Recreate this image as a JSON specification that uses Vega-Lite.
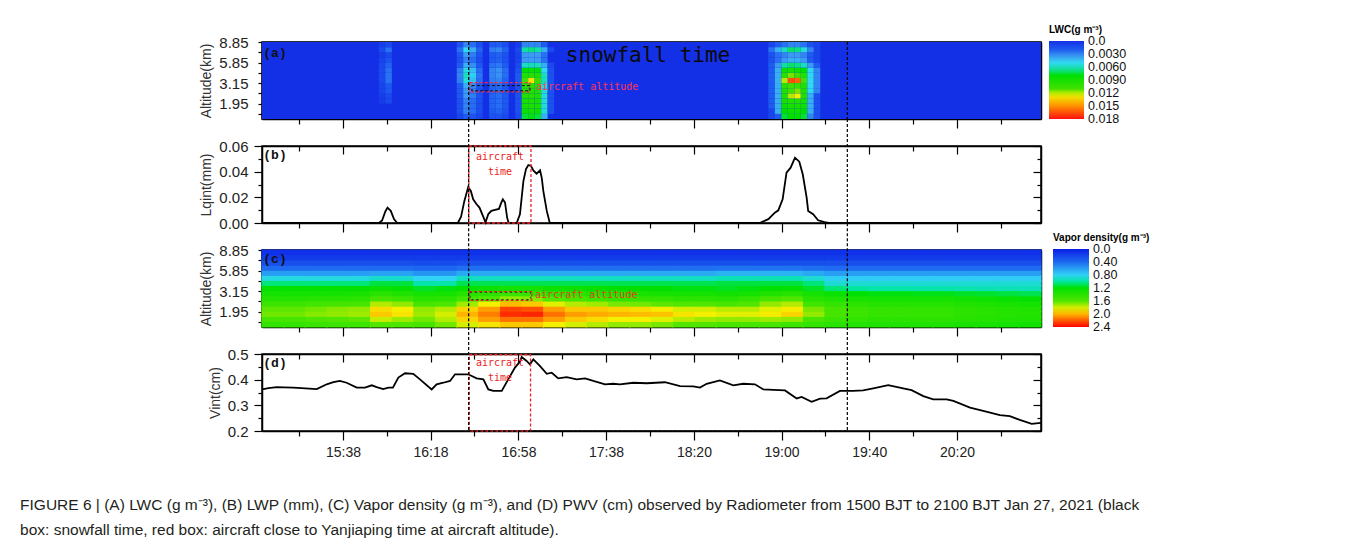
{
"$schema":"https://vega.github.io/schema/vega-lite/v6.json",
"background":"white",
"padding":{"left":20,"top":24,"right":5,"bottom":5},
"spacing":27,
"bounds":"flush",
"title":{"text":["FIGURE 6 | (A) LWC (g m⁻³), (B) LWP (mm), (C) Vapor density (g m⁻³), and (D) PWV (cm) observed by Radiometer from 1500 BJT to 2100 BJT Jan 27, 2021 (black","box: snowfall time, red box: aircraft close to Yanjiaping time at aircraft altitude)."],"orient":"bottom","anchor":"start","frame":"bounds","dx":-179,"offset":38,"font":"Liberation Sans","fontSize":15.5,"fontWeight":"normal","color":"#231f20","lineHeight":25},
"datasets":{
"lwcbg":[{"t0":0,"t1":360,"h0":1,"h1":16,"v":0}],
"snow":[{"t":95.5},{"t":270.5}],
"lq":[{"t":0,"v":0},{"t":54,"v":0},{"t":55.5,"v":0.002},{"t":57,"v":0.009},{"t":58,"v":0.012},{"t":59.5,"v":0.0095},{"t":61,"v":0.003},{"t":62.5,"v":0},{"t":90.5,"v":0},{"t":92,"v":0.005},{"t":93.5,"v":0.017},{"t":95.3,"v":0.028},{"t":96.5,"v":0.025},{"t":97.6,"v":0.0185},{"t":99,"v":0.015},{"t":100.5,"v":0.012},{"t":102,"v":0.006},{"t":103.3,"v":0.0005},{"t":104.6,"v":0.007},{"t":106,"v":0.0095},{"t":107.7,"v":0.0102},{"t":109.5,"v":0.011},{"t":110.5,"v":0.0155},{"t":111.3,"v":0.0185},{"t":112.3,"v":0.016},{"t":113.3,"v":0.004},{"t":114,"v":0},{"t":117.7,"v":0},{"t":119.2,"v":0.0068},{"t":120.8,"v":0.0327},{"t":122,"v":0.042},{"t":123.1,"v":0.0452},{"t":124.3,"v":0.0445},{"t":125.4,"v":0.041},{"t":126.9,"v":0.0384},{"t":128.5,"v":0.041},{"t":129.3,"v":0.035},{"t":130,"v":0.025},{"t":131.6,"v":0.0094},{"t":133,"v":0},{"t":230,"v":0},{"t":234,"v":0.003},{"t":237,"v":0.008},{"t":238.6,"v":0.0099},{"t":240.6,"v":0.0185},{"t":242.4,"v":0.0392},{"t":244.3,"v":0.0431},{"t":246.3,"v":0.0509},{"t":248.3,"v":0.0478},{"t":249.9,"v":0.038},{"t":251.7,"v":0.0197},{"t":252.4,"v":0.0094},{"t":254.7,"v":0.0068},{"t":257,"v":0.0021},{"t":260,"v":0.0006},{"t":262,"v":0},{"t":360,"v":0}],
"vi":[{"t":0,"v":0.362},{"t":3,"v":0.367},{"t":6.8,"v":0.371},{"t":10,"v":0.37},{"t":14.5,"v":0.369},{"t":20,"v":0.366},{"t":25.3,"v":0.363},{"t":29.9,"v":0.382},{"t":33,"v":0.39},{"t":36,"v":0.395},{"t":39.1,"v":0.388},{"t":43.8,"v":0.369},{"t":47.6,"v":0.369},{"t":50.7,"v":0.378},{"t":53,"v":0.371},{"t":56,"v":0.363},{"t":58.4,"v":0.369},{"t":60.5,"v":0.369},{"t":63,"v":0.408},{"t":66.1,"v":0.425},{"t":69.9,"v":0.423},{"t":73,"v":0.401},{"t":78.4,"v":0.362},{"t":80.7,"v":0.382},{"t":83.8,"v":0.388},{"t":86.9,"v":0.395},{"t":89.2,"v":0.421},{"t":91.5,"v":0.421},{"t":95.3,"v":0.421},{"t":99.2,"v":0.405},{"t":102.3,"v":0.401},{"t":104.6,"v":0.362},{"t":106.9,"v":0.356},{"t":110.8,"v":0.356},{"t":113.8,"v":0.401},{"t":116.9,"v":0.447},{"t":119.2,"v":0.47},{"t":120,"v":0.488},{"t":122.3,"v":0.473},{"t":123.8,"v":0.46},{"t":125.4,"v":0.479},{"t":128.5,"v":0.453},{"t":131.6,"v":0.423},{"t":133.9,"v":0.427},{"t":136.9,"v":0.405},{"t":140.8,"v":0.41},{"t":145.4,"v":0.401},{"t":149.3,"v":0.405},{"t":153.1,"v":0.395},{"t":158.5,"v":0.382},{"t":162.3,"v":0.384},{"t":165.4,"v":0.382},{"t":171.6,"v":0.388},{"t":177.8,"v":0.386},{"t":186.2,"v":0.39},{"t":193.2,"v":0.375},{"t":199.3,"v":0.374},{"t":202.4,"v":0.369},{"t":205.5,"v":0.384},{"t":211.6,"v":0.397},{"t":217.8,"v":0.378},{"t":222.4,"v":0.384},{"t":227.8,"v":0.382},{"t":231.7,"v":0.362},{"t":236.3,"v":0.36},{"t":241.7,"v":0.358},{"t":247.1,"v":0.327},{"t":249.4,"v":0.333},{"t":254,"v":0.314},{"t":257.9,"v":0.326},{"t":260.9,"v":0.327},{"t":267.1,"v":0.356},{"t":273.2,"v":0.356},{"t":277.8,"v":0.358},{"t":282.5,"v":0.366},{"t":289.4,"v":0.379},{"t":296.3,"v":0.366},{"t":300.2,"v":0.359},{"t":305.6,"v":0.336},{"t":310.2,"v":0.323},{"t":316.4,"v":0.323},{"t":319.5,"v":0.317},{"t":327.2,"v":0.291},{"t":333.3,"v":0.278},{"t":341,"v":0.262},{"t":345.6,"v":0.258},{"t":350.2,"v":0.243},{"t":355.7,"v":0.228},{"t":358.8,"v":0.231},{"t":360,"v":0.232}],
"lwc":[
{"t":55.5,"h":4,"v":0.0006},{"t":55.5,"h":5,"v":0.0006},{"t":55.5,"h":6,"v":0.0009},{"t":55.5,"h":7,"v":0.0009},{"t":55.5,"h":8,"v":0.0012},{"t":55.5,"h":9,"v":0.0012},{"t":55.5,"h":10,"v":0.0012},{"t":55.5,"h":11,"v":0.0011},{"t":55.5,"h":12,"v":0.0008},{"t":55.5,"h":13,"v":0.0006},{"t":55.5,"h":14,"v":0.0012},{"t":55.5,"h":15,"v":0.0006},
{"t":58.5,"h":4,"v":0.0012},{"t":58.5,"h":5,"v":0.0012},{"t":58.5,"h":6,"v":0.0018},{"t":58.5,"h":7,"v":0.0018},{"t":58.5,"h":8,"v":0.0025},{"t":58.5,"h":9,"v":0.0025},{"t":58.5,"h":10,"v":0.0025},{"t":58.5,"h":11,"v":0.0022},{"t":58.5,"h":12,"v":0.0016},{"t":58.5,"h":13,"v":0.0012},{"t":58.5,"h":14,"v":0.0025},{"t":58.5,"h":15,"v":0.0012},
{"t":91.5,"h":1,"v":0.001},{"t":91.5,"h":2,"v":0.0015},{"t":91.5,"h":3,"v":0.0015},{"t":91.5,"h":4,"v":0.0015},{"t":91.5,"h":5,"v":0.0018},{"t":91.5,"h":6,"v":0.0018},{"t":91.5,"h":7,"v":0.002},{"t":91.5,"h":8,"v":0.0028},{"t":91.5,"h":9,"v":0.003},{"t":91.5,"h":10,"v":0.0028},{"t":91.5,"h":11,"v":0.002},{"t":91.5,"h":12,"v":0.0015},{"t":91.5,"h":13,"v":0.0018},{"t":91.5,"h":14,"v":0.0025},{"t":91.5,"h":15,"v":0.0015},
{"t":94.5,"h":1,"v":0.002},{"t":94.5,"h":2,"v":0.003},{"t":94.5,"h":3,"v":0.003},{"t":94.5,"h":4,"v":0.003},{"t":94.5,"h":5,"v":0.0035},{"t":94.5,"h":6,"v":0.0035},{"t":94.5,"h":7,"v":0.004},{"t":94.5,"h":8,"v":0.0055},{"t":94.5,"h":9,"v":0.006},{"t":94.5,"h":10,"v":0.0055},{"t":94.5,"h":11,"v":0.004},{"t":94.5,"h":12,"v":0.003},{"t":94.5,"h":13,"v":0.0035},{"t":94.5,"h":14,"v":0.005},{"t":94.5,"h":15,"v":0.003},
{"t":97.5,"h":1,"v":0.0016},{"t":97.5,"h":2,"v":0.0024},{"t":97.5,"h":3,"v":0.0024},{"t":97.5,"h":4,"v":0.0024},{"t":97.5,"h":5,"v":0.0028},{"t":97.5,"h":6,"v":0.0028},{"t":97.5,"h":7,"v":0.0032},{"t":97.5,"h":8,"v":0.0044},{"t":97.5,"h":9,"v":0.0048},{"t":97.5,"h":10,"v":0.0044},{"t":97.5,"h":11,"v":0.0032},{"t":97.5,"h":12,"v":0.0024},{"t":97.5,"h":13,"v":0.0028},{"t":97.5,"h":14,"v":0.004},{"t":97.5,"h":15,"v":0.0024},
{"t":100.5,"h":1,"v":0.001},{"t":100.5,"h":2,"v":0.0014},{"t":100.5,"h":3,"v":0.0014},{"t":100.5,"h":4,"v":0.0014},{"t":100.5,"h":5,"v":0.0016},{"t":100.5,"h":6,"v":0.0016},{"t":100.5,"h":7,"v":0.0018},{"t":100.5,"h":8,"v":0.0024},{"t":100.5,"h":9,"v":0.0026},{"t":100.5,"h":10,"v":0.0024},{"t":100.5,"h":11,"v":0.0018},{"t":100.5,"h":12,"v":0.0014},{"t":100.5,"h":13,"v":0.0016},{"t":100.5,"h":14,"v":0.0022},{"t":100.5,"h":15,"v":0.0014},
{"t":106.5,"h":1,"v":0.0015},{"t":106.5,"h":2,"v":0.002},{"t":106.5,"h":3,"v":0.0022},{"t":106.5,"h":4,"v":0.0022},{"t":106.5,"h":5,"v":0.0022},{"t":106.5,"h":6,"v":0.0022},{"t":106.5,"h":7,"v":0.0022},{"t":106.5,"h":8,"v":0.0028},{"t":106.5,"h":9,"v":0.003},{"t":106.5,"h":10,"v":0.003},{"t":106.5,"h":11,"v":0.0025},{"t":106.5,"h":12,"v":0.002},{"t":106.5,"h":13,"v":0.002},{"t":106.5,"h":14,"v":0.0028},{"t":106.5,"h":15,"v":0.0018},
{"t":109.5,"h":1,"v":0.0016},{"t":109.5,"h":2,"v":0.0022},{"t":109.5,"h":3,"v":0.0024},{"t":109.5,"h":4,"v":0.0024},{"t":109.5,"h":5,"v":0.0024},{"t":109.5,"h":6,"v":0.0024},{"t":109.5,"h":7,"v":0.0024},{"t":109.5,"h":8,"v":0.003},{"t":109.5,"h":9,"v":0.0033},{"t":109.5,"h":10,"v":0.0033},{"t":109.5,"h":11,"v":0.0027},{"t":109.5,"h":12,"v":0.0022},{"t":109.5,"h":13,"v":0.0022},{"t":109.5,"h":14,"v":0.003},{"t":109.5,"h":15,"v":0.002},
{"t":112.5,"h":1,"v":0.0012},{"t":112.5,"h":2,"v":0.0016},{"t":112.5,"h":3,"v":0.0018},{"t":112.5,"h":4,"v":0.0018},{"t":112.5,"h":5,"v":0.0018},{"t":112.5,"h":6,"v":0.0018},{"t":112.5,"h":7,"v":0.0018},{"t":112.5,"h":8,"v":0.0022},{"t":112.5,"h":9,"v":0.0024},{"t":112.5,"h":10,"v":0.0024},{"t":112.5,"h":11,"v":0.002},{"t":112.5,"h":12,"v":0.0016},{"t":112.5,"h":13,"v":0.0016},{"t":112.5,"h":14,"v":0.0022},{"t":112.5,"h":15,"v":0.0014},
{"t":118.5,"h":1,"v":0.0012},{"t":118.5,"h":2,"v":0.0015},{"t":118.5,"h":3,"v":0.0015},{"t":118.5,"h":4,"v":0.0015},{"t":118.5,"h":5,"v":0.0015},{"t":118.5,"h":6,"v":0.0015},{"t":118.5,"h":7,"v":0.0015},{"t":118.5,"h":8,"v":0.0018},{"t":118.5,"h":9,"v":0.0018},{"t":118.5,"h":10,"v":0.0015},{"t":118.5,"h":11,"v":0.0012},{"t":118.5,"h":12,"v":0.0008},{"t":118.5,"h":13,"v":0.0008},{"t":118.5,"h":14,"v":0.0012},{"t":118.5,"h":15,"v":0.0006},
{"t":121.5,"h":1,"v":0.0075},{"t":121.5,"h":2,"v":0.0085},{"t":121.5,"h":3,"v":0.009},{"t":121.5,"h":4,"v":0.009},{"t":121.5,"h":5,"v":0.0095},{"t":121.5,"h":6,"v":0.0095},{"t":121.5,"h":7,"v":0.0098},{"t":121.5,"h":8,"v":0.011},{"t":121.5,"h":9,"v":0.0095},{"t":121.5,"h":10,"v":0.008},{"t":121.5,"h":11,"v":0.006},{"t":121.5,"h":12,"v":0.0035},{"t":121.5,"h":13,"v":0.0035},{"t":121.5,"h":14,"v":0.0065},{"t":121.5,"h":15,"v":0.003},
{"t":124.5,"h":1,"v":0.0078},{"t":124.5,"h":2,"v":0.0088},{"t":124.5,"h":3,"v":0.0092},{"t":124.5,"h":4,"v":0.0092},{"t":124.5,"h":5,"v":0.0096},{"t":124.5,"h":6,"v":0.0096},{"t":124.5,"h":7,"v":0.01},{"t":124.5,"h":8,"v":0.0128},{"t":124.5,"h":9,"v":0.0098},{"t":124.5,"h":10,"v":0.0082},{"t":124.5,"h":11,"v":0.0062},{"t":124.5,"h":12,"v":0.0036},{"t":124.5,"h":13,"v":0.0036},{"t":124.5,"h":14,"v":0.0068},{"t":124.5,"h":15,"v":0.003},
{"t":127.5,"h":1,"v":0.0075},{"t":127.5,"h":2,"v":0.0085},{"t":127.5,"h":3,"v":0.009},{"t":127.5,"h":4,"v":0.009},{"t":127.5,"h":5,"v":0.0094},{"t":127.5,"h":6,"v":0.0094},{"t":127.5,"h":7,"v":0.0096},{"t":127.5,"h":8,"v":0.0105},{"t":127.5,"h":9,"v":0.0094},{"t":127.5,"h":10,"v":0.008},{"t":127.5,"h":11,"v":0.006},{"t":127.5,"h":12,"v":0.0035},{"t":127.5,"h":13,"v":0.0035},{"t":127.5,"h":14,"v":0.0065},{"t":127.5,"h":15,"v":0.003},
{"t":130.5,"h":1,"v":0.004},{"t":130.5,"h":2,"v":0.0055},{"t":130.5,"h":3,"v":0.0055},{"t":130.5,"h":4,"v":0.0055},{"t":130.5,"h":5,"v":0.0055},{"t":130.5,"h":6,"v":0.0055},{"t":130.5,"h":7,"v":0.0055},{"t":130.5,"h":8,"v":0.006},{"t":130.5,"h":9,"v":0.006},{"t":130.5,"h":10,"v":0.005},{"t":130.5,"h":11,"v":0.004},{"t":130.5,"h":12,"v":0.0025},{"t":130.5,"h":13,"v":0.0025},{"t":130.5,"h":14,"v":0.004},{"t":130.5,"h":15,"v":0.002},
{"t":133.5,"h":2,"v":0.0015},{"t":133.5,"h":3,"v":0.0015},{"t":133.5,"h":4,"v":0.0015},{"t":133.5,"h":5,"v":0.0015},{"t":133.5,"h":6,"v":0.0015},{"t":133.5,"h":7,"v":0.0015},{"t":133.5,"h":8,"v":0.0015},{"t":133.5,"h":9,"v":0.0015},{"t":133.5,"h":10,"v":0.0015},{"t":133.5,"h":11,"v":0.0012},{"t":133.5,"h":14,"v":0.0012},
{"t":235.5,"h":1,"v":0.001},{"t":235.5,"h":2,"v":0.001},{"t":235.5,"h":3,"v":0.002},{"t":235.5,"h":4,"v":0.002},{"t":235.5,"h":5,"v":0.002},{"t":235.5,"h":6,"v":0.002},{"t":235.5,"h":7,"v":0.002},{"t":235.5,"h":8,"v":0.002},{"t":235.5,"h":9,"v":0.002},{"t":235.5,"h":10,"v":0.002},{"t":235.5,"h":11,"v":0.002},{"t":235.5,"h":12,"v":0.0015},{"t":235.5,"h":13,"v":0.0015},{"t":235.5,"h":14,"v":0.0025},{"t":235.5,"h":15,"v":0.001},
{"t":238.5,"h":1,"v":0.002},{"t":238.5,"h":2,"v":0.004},{"t":238.5,"h":3,"v":0.004},{"t":238.5,"h":4,"v":0.004},{"t":238.5,"h":5,"v":0.004},{"t":238.5,"h":6,"v":0.004},{"t":238.5,"h":7,"v":0.004},{"t":238.5,"h":8,"v":0.004},{"t":238.5,"h":9,"v":0.004},{"t":238.5,"h":10,"v":0.004},{"t":238.5,"h":11,"v":0.0035},{"t":238.5,"h":12,"v":0.0025},{"t":238.5,"h":13,"v":0.0025},{"t":238.5,"h":14,"v":0.004},{"t":238.5,"h":15,"v":0.002},
{"t":241.5,"h":1,"v":0.0075},{"t":241.5,"h":2,"v":0.008},{"t":241.5,"h":3,"v":0.0085},{"t":241.5,"h":4,"v":0.009},{"t":241.5,"h":5,"v":0.0095},{"t":241.5,"h":6,"v":0.0095},{"t":241.5,"h":7,"v":0.01},{"t":241.5,"h":8,"v":0.012},{"t":241.5,"h":9,"v":0.01},{"t":241.5,"h":10,"v":0.0085},{"t":241.5,"h":11,"v":0.0065},{"t":241.5,"h":12,"v":0.0035},{"t":241.5,"h":13,"v":0.003},{"t":241.5,"h":14,"v":0.006},{"t":241.5,"h":15,"v":0.0025},
{"t":244.5,"h":1,"v":0.008},{"t":244.5,"h":2,"v":0.0085},{"t":244.5,"h":3,"v":0.009},{"t":244.5,"h":4,"v":0.0095},{"t":244.5,"h":5,"v":0.012},{"t":244.5,"h":6,"v":0.011},{"t":244.5,"h":7,"v":0.011},{"t":244.5,"h":8,"v":0.0165},{"t":244.5,"h":9,"v":0.0115},{"t":244.5,"h":10,"v":0.009},{"t":244.5,"h":11,"v":0.007},{"t":244.5,"h":12,"v":0.004},{"t":244.5,"h":13,"v":0.0035},{"t":244.5,"h":14,"v":0.007},{"t":244.5,"h":15,"v":0.003},
{"t":247.5,"h":1,"v":0.008},{"t":247.5,"h":2,"v":0.0085},{"t":247.5,"h":3,"v":0.009},{"t":247.5,"h":4,"v":0.0095},{"t":247.5,"h":5,"v":0.0125},{"t":247.5,"h":6,"v":0.0115},{"t":247.5,"h":7,"v":0.0105},{"t":247.5,"h":8,"v":0.016},{"t":247.5,"h":9,"v":0.011},{"t":247.5,"h":10,"v":0.0085},{"t":247.5,"h":11,"v":0.0068},{"t":247.5,"h":12,"v":0.004},{"t":247.5,"h":13,"v":0.0035},{"t":247.5,"h":14,"v":0.0068},{"t":247.5,"h":15,"v":0.003},
{"t":250.5,"h":1,"v":0.0075},{"t":250.5,"h":2,"v":0.008},{"t":250.5,"h":3,"v":0.0085},{"t":250.5,"h":4,"v":0.009},{"t":250.5,"h":5,"v":0.0095},{"t":250.5,"h":6,"v":0.0095},{"t":250.5,"h":7,"v":0.0095},{"t":250.5,"h":8,"v":0.011},{"t":250.5,"h":9,"v":0.0095},{"t":250.5,"h":10,"v":0.008},{"t":250.5,"h":11,"v":0.006},{"t":250.5,"h":12,"v":0.0035},{"t":250.5,"h":13,"v":0.003},{"t":250.5,"h":14,"v":0.0055},{"t":250.5,"h":15,"v":0.0025},
{"t":253.5,"h":1,"v":0.003},{"t":253.5,"h":2,"v":0.004},{"t":253.5,"h":3,"v":0.004},{"t":253.5,"h":4,"v":0.004},{"t":253.5,"h":5,"v":0.004},{"t":253.5,"h":6,"v":0.005},{"t":253.5,"h":7,"v":0.005},{"t":253.5,"h":8,"v":0.005},{"t":253.5,"h":9,"v":0.005},{"t":253.5,"h":10,"v":0.005},{"t":253.5,"h":11,"v":0.0035},{"t":253.5,"h":12,"v":0.002},{"t":253.5,"h":13,"v":0.002},{"t":253.5,"h":14,"v":0.003},{"t":253.5,"h":15,"v":0.0015},
{"t":256.5,"h":1,"v":0.0015},{"t":256.5,"h":2,"v":0.0015},{"t":256.5,"h":3,"v":0.0015},{"t":256.5,"h":4,"v":0.0015},{"t":256.5,"h":5,"v":0.0015},{"t":256.5,"h":6,"v":0.003},{"t":256.5,"h":7,"v":0.003},{"t":256.5,"h":8,"v":0.003},{"t":256.5,"h":9,"v":0.003},{"t":256.5,"h":10,"v":0.003},{"t":256.5,"h":11,"v":0.002},{"t":256.5,"h":12,"v":0.001},{"t":256.5,"h":13,"v":0.001},{"t":256.5,"h":14,"v":0.001},{"t":256.5,"h":15,"v":0.001}
],
"vap":[
{"t":5,"h":1,"v":1.45},{"t":5,"h":2,"v":1.55},{"t":5,"h":3,"v":1.65},{"t":5,"h":4,"v":1.62},{"t":5,"h":5,"v":1.5},{"t":5,"h":6,"v":1.38},{"t":5,"h":7,"v":1.3},{"t":5,"h":8,"v":1.22},{"t":5,"h":9,"v":1.05},{"t":5,"h":10,"v":0.85},{"t":5,"h":11,"v":0.6},{"t":5,"h":12,"v":0.4},{"t":5,"h":13,"v":0.25},{"t":5,"h":14,"v":0.15},{"t":5,"h":15,"v":0.1},
{"t":15,"h":1,"v":1.45},{"t":15,"h":2,"v":1.55},{"t":15,"h":3,"v":1.65},{"t":15,"h":4,"v":1.62},{"t":15,"h":5,"v":1.5},{"t":15,"h":6,"v":1.38},{"t":15,"h":7,"v":1.3},{"t":15,"h":8,"v":1.22},{"t":15,"h":9,"v":1.05},{"t":15,"h":10,"v":0.85},{"t":15,"h":11,"v":0.6},{"t":15,"h":12,"v":0.4},{"t":15,"h":13,"v":0.25},{"t":15,"h":14,"v":0.15},{"t":15,"h":15,"v":0.1},
{"t":25,"h":1,"v":1.48},{"t":25,"h":2,"v":1.58},{"t":25,"h":3,"v":1.68},{"t":25,"h":4,"v":1.65},{"t":25,"h":5,"v":1.52},{"t":25,"h":6,"v":1.4},{"t":25,"h":7,"v":1.3},{"t":25,"h":8,"v":1.22},{"t":25,"h":9,"v":1.05},{"t":25,"h":10,"v":0.85},{"t":25,"h":11,"v":0.6},{"t":25,"h":12,"v":0.4},{"t":25,"h":13,"v":0.25},{"t":25,"h":14,"v":0.15},{"t":25,"h":15,"v":0.1},
{"t":35,"h":1,"v":1.5},{"t":35,"h":2,"v":1.6},{"t":35,"h":3,"v":1.7},{"t":35,"h":4,"v":1.68},{"t":35,"h":5,"v":1.55},{"t":35,"h":6,"v":1.4},{"t":35,"h":7,"v":1.3},{"t":35,"h":8,"v":1.22},{"t":35,"h":9,"v":1.05},{"t":35,"h":10,"v":0.85},{"t":35,"h":11,"v":0.6},{"t":35,"h":12,"v":0.4},{"t":35,"h":13,"v":0.25},{"t":35,"h":14,"v":0.15},{"t":35,"h":15,"v":0.1},
{"t":45,"h":1,"v":1.5},{"t":45,"h":2,"v":1.62},{"t":45,"h":3,"v":1.72},{"t":45,"h":4,"v":1.7},{"t":45,"h":5,"v":1.55},{"t":45,"h":6,"v":1.42},{"t":45,"h":7,"v":1.32},{"t":45,"h":8,"v":1.22},{"t":45,"h":9,"v":1.05},{"t":45,"h":10,"v":0.85},{"t":45,"h":11,"v":0.6},{"t":45,"h":12,"v":0.4},{"t":45,"h":13,"v":0.25},{"t":45,"h":14,"v":0.15},{"t":45,"h":15,"v":0.1},
{"t":55,"h":1,"v":1.6},{"t":55,"h":2,"v":1.78},{"t":55,"h":3,"v":1.95},{"t":55,"h":4,"v":1.9},{"t":55,"h":5,"v":1.75},{"t":55,"h":6,"v":1.55},{"t":55,"h":7,"v":1.4},{"t":55,"h":8,"v":1.25},{"t":55,"h":9,"v":1.12},{"t":55,"h":10,"v":0.9},{"t":55,"h":11,"v":0.62},{"t":55,"h":12,"v":0.4},{"t":55,"h":13,"v":0.25},{"t":55,"h":14,"v":0.15},{"t":55,"h":15,"v":0.1},
{"t":65,"h":1,"v":1.58},{"t":65,"h":2,"v":1.72},{"t":65,"h":3,"v":1.88},{"t":65,"h":4,"v":1.85},{"t":65,"h":5,"v":1.7},{"t":65,"h":6,"v":1.5},{"t":65,"h":7,"v":1.36},{"t":65,"h":8,"v":1.22},{"t":65,"h":9,"v":1.12},{"t":65,"h":10,"v":0.9},{"t":65,"h":11,"v":0.62},{"t":65,"h":12,"v":0.4},{"t":65,"h":13,"v":0.25},{"t":65,"h":14,"v":0.15},{"t":65,"h":15,"v":0.1},
{"t":75,"h":1,"v":1.55},{"t":75,"h":2,"v":1.65},{"t":75,"h":3,"v":1.72},{"t":75,"h":4,"v":1.7},{"t":75,"h":5,"v":1.55},{"t":75,"h":6,"v":1.4},{"t":75,"h":7,"v":1.3},{"t":75,"h":8,"v":1.15},{"t":75,"h":9,"v":0.98},{"t":75,"h":10,"v":0.8},{"t":75,"h":11,"v":0.56},{"t":75,"h":12,"v":0.38},{"t":75,"h":13,"v":0.24},{"t":75,"h":14,"v":0.15},{"t":75,"h":15,"v":0.1},
{"t":85,"h":1,"v":1.65},{"t":85,"h":2,"v":1.75},{"t":85,"h":3,"v":1.8},{"t":85,"h":4,"v":1.75},{"t":85,"h":5,"v":1.58},{"t":85,"h":6,"v":1.42},{"t":85,"h":7,"v":1.3},{"t":85,"h":8,"v":1.18},{"t":85,"h":9,"v":0.98},{"t":85,"h":10,"v":0.8},{"t":85,"h":11,"v":0.56},{"t":85,"h":12,"v":0.38},{"t":85,"h":13,"v":0.24},{"t":85,"h":14,"v":0.15},{"t":85,"h":15,"v":0.1},
{"t":95,"h":1,"v":1.8},{"t":95,"h":2,"v":1.92},{"t":95,"h":3,"v":2.0},{"t":95,"h":4,"v":1.92},{"t":95,"h":5,"v":1.72},{"t":95,"h":6,"v":1.52},{"t":95,"h":7,"v":1.38},{"t":95,"h":8,"v":1.22},{"t":95,"h":9,"v":1.1},{"t":95,"h":10,"v":0.92},{"t":95,"h":11,"v":0.65},{"t":95,"h":12,"v":0.42},{"t":95,"h":13,"v":0.26},{"t":95,"h":14,"v":0.15},{"t":95,"h":15,"v":0.1},
{"t":105,"h":1,"v":1.88},{"t":105,"h":2,"v":2.05},{"t":105,"h":3,"v":2.12},{"t":105,"h":4,"v":2.05},{"t":105,"h":5,"v":1.85},{"t":105,"h":6,"v":1.6},{"t":105,"h":7,"v":1.42},{"t":105,"h":8,"v":1.26},{"t":105,"h":9,"v":1.1},{"t":105,"h":10,"v":0.92},{"t":105,"h":11,"v":0.65},{"t":105,"h":12,"v":0.42},{"t":105,"h":13,"v":0.26},{"t":105,"h":14,"v":0.15},{"t":105,"h":15,"v":0.1},
{"t":115,"h":1,"v":1.95},{"t":115,"h":2,"v":2.15},{"t":115,"h":3,"v":2.3},{"t":115,"h":4,"v":2.25},{"t":115,"h":5,"v":1.98},{"t":115,"h":6,"v":1.7},{"t":115,"h":7,"v":1.48},{"t":115,"h":8,"v":1.3},{"t":115,"h":9,"v":1.1},{"t":115,"h":10,"v":0.92},{"t":115,"h":11,"v":0.65},{"t":115,"h":12,"v":0.42},{"t":115,"h":13,"v":0.26},{"t":115,"h":14,"v":0.15},{"t":115,"h":15,"v":0.1},
{"t":125,"h":1,"v":1.95},{"t":125,"h":2,"v":2.15},{"t":125,"h":3,"v":2.32},{"t":125,"h":4,"v":2.22},{"t":125,"h":5,"v":1.95},{"t":125,"h":6,"v":1.68},{"t":125,"h":7,"v":1.46},{"t":125,"h":8,"v":1.3},{"t":125,"h":9,"v":1.1},{"t":125,"h":10,"v":0.92},{"t":125,"h":11,"v":0.65},{"t":125,"h":12,"v":0.42},{"t":125,"h":13,"v":0.26},{"t":125,"h":14,"v":0.15},{"t":125,"h":15,"v":0.1},
{"t":135,"h":1,"v":1.85},{"t":135,"h":2,"v":2.05},{"t":135,"h":3,"v":2.15},{"t":135,"h":4,"v":2.05},{"t":135,"h":5,"v":1.82},{"t":135,"h":6,"v":1.6},{"t":135,"h":7,"v":1.42},{"t":135,"h":8,"v":1.26},{"t":135,"h":9,"v":1.1},{"t":135,"h":10,"v":0.92},{"t":135,"h":11,"v":0.65},{"t":135,"h":12,"v":0.42},{"t":135,"h":13,"v":0.26},{"t":135,"h":14,"v":0.15},{"t":135,"h":15,"v":0.1},
{"t":145,"h":1,"v":1.8},{"t":145,"h":2,"v":1.95},{"t":145,"h":3,"v":2.05},{"t":145,"h":4,"v":1.95},{"t":145,"h":5,"v":1.75},{"t":145,"h":6,"v":1.55},{"t":145,"h":7,"v":1.4},{"t":145,"h":8,"v":1.25},{"t":145,"h":9,"v":1.1},{"t":145,"h":10,"v":0.92},{"t":145,"h":11,"v":0.65},{"t":145,"h":12,"v":0.42},{"t":145,"h":13,"v":0.26},{"t":145,"h":14,"v":0.15},{"t":145,"h":15,"v":0.1},
{"t":155,"h":1,"v":1.75},{"t":155,"h":2,"v":1.9},{"t":155,"h":3,"v":2.02},{"t":155,"h":4,"v":1.95},{"t":155,"h":5,"v":1.72},{"t":155,"h":6,"v":1.5},{"t":155,"h":7,"v":1.36},{"t":155,"h":8,"v":1.22},{"t":155,"h":9,"v":1.1},{"t":155,"h":10,"v":0.92},{"t":155,"h":11,"v":0.65},{"t":155,"h":12,"v":0.42},{"t":155,"h":13,"v":0.26},{"t":155,"h":14,"v":0.15},{"t":155,"h":15,"v":0.1},
{"t":165,"h":1,"v":1.7},{"t":165,"h":2,"v":1.85},{"t":165,"h":3,"v":2.0},{"t":165,"h":4,"v":1.92},{"t":165,"h":5,"v":1.66},{"t":165,"h":6,"v":1.46},{"t":165,"h":7,"v":1.34},{"t":165,"h":8,"v":1.2},{"t":165,"h":9,"v":1.1},{"t":165,"h":10,"v":0.92},{"t":165,"h":11,"v":0.65},{"t":165,"h":12,"v":0.42},{"t":165,"h":13,"v":0.26},{"t":165,"h":14,"v":0.15},{"t":165,"h":15,"v":0.1},
{"t":175,"h":1,"v":1.7},{"t":175,"h":2,"v":1.85},{"t":175,"h":3,"v":1.98},{"t":175,"h":4,"v":1.9},{"t":175,"h":5,"v":1.65},{"t":175,"h":6,"v":1.45},{"t":175,"h":7,"v":1.32},{"t":175,"h":8,"v":1.2},{"t":175,"h":9,"v":1.1},{"t":175,"h":10,"v":0.92},{"t":175,"h":11,"v":0.65},{"t":175,"h":12,"v":0.42},{"t":175,"h":13,"v":0.26},{"t":175,"h":14,"v":0.15},{"t":175,"h":15,"v":0.1},
{"t":185,"h":1,"v":1.66},{"t":185,"h":2,"v":1.82},{"t":185,"h":3,"v":1.96},{"t":185,"h":4,"v":1.86},{"t":185,"h":5,"v":1.62},{"t":185,"h":6,"v":1.45},{"t":185,"h":7,"v":1.3},{"t":185,"h":8,"v":1.2},{"t":185,"h":9,"v":1.1},{"t":185,"h":10,"v":0.92},{"t":185,"h":11,"v":0.65},{"t":185,"h":12,"v":0.42},{"t":185,"h":13,"v":0.26},{"t":185,"h":14,"v":0.15},{"t":185,"h":15,"v":0.1},
{"t":195,"h":1,"v":1.6},{"t":195,"h":2,"v":1.76},{"t":195,"h":3,"v":1.88},{"t":195,"h":4,"v":1.8},{"t":195,"h":5,"v":1.6},{"t":195,"h":6,"v":1.42},{"t":195,"h":7,"v":1.3},{"t":195,"h":8,"v":1.18},{"t":195,"h":9,"v":1.1},{"t":195,"h":10,"v":0.92},{"t":195,"h":11,"v":0.65},{"t":195,"h":12,"v":0.42},{"t":195,"h":13,"v":0.26},{"t":195,"h":14,"v":0.15},{"t":195,"h":15,"v":0.1},
{"t":205,"h":1,"v":1.6},{"t":205,"h":2,"v":1.72},{"t":205,"h":3,"v":1.85},{"t":205,"h":4,"v":1.8},{"t":205,"h":5,"v":1.6},{"t":205,"h":6,"v":1.42},{"t":205,"h":7,"v":1.3},{"t":205,"h":8,"v":1.18},{"t":205,"h":9,"v":1.1},{"t":205,"h":10,"v":0.92},{"t":205,"h":11,"v":0.65},{"t":205,"h":12,"v":0.42},{"t":205,"h":13,"v":0.26},{"t":205,"h":14,"v":0.15},{"t":205,"h":15,"v":0.1},
{"t":215,"h":1,"v":1.56},{"t":215,"h":2,"v":1.7},{"t":215,"h":3,"v":1.82},{"t":215,"h":4,"v":1.76},{"t":215,"h":5,"v":1.56},{"t":215,"h":6,"v":1.4},{"t":215,"h":7,"v":1.28},{"t":215,"h":8,"v":1.16},{"t":215,"h":9,"v":1.12},{"t":215,"h":10,"v":0.95},{"t":215,"h":11,"v":0.68},{"t":215,"h":12,"v":0.43},{"t":215,"h":13,"v":0.26},{"t":215,"h":14,"v":0.15},{"t":215,"h":15,"v":0.1},
{"t":225,"h":1,"v":1.55},{"t":225,"h":2,"v":1.7},{"t":225,"h":3,"v":1.82},{"t":225,"h":4,"v":1.76},{"t":225,"h":5,"v":1.6},{"t":225,"h":6,"v":1.45},{"t":225,"h":7,"v":1.3},{"t":225,"h":8,"v":1.18},{"t":225,"h":9,"v":1.12},{"t":225,"h":10,"v":0.95},{"t":225,"h":11,"v":0.68},{"t":225,"h":12,"v":0.43},{"t":225,"h":13,"v":0.26},{"t":225,"h":14,"v":0.15},{"t":225,"h":15,"v":0.1},
{"t":235,"h":1,"v":1.55},{"t":235,"h":2,"v":1.72},{"t":235,"h":3,"v":1.86},{"t":235,"h":4,"v":1.82},{"t":235,"h":5,"v":1.7},{"t":235,"h":6,"v":1.55},{"t":235,"h":7,"v":1.36},{"t":235,"h":8,"v":1.2},{"t":235,"h":9,"v":1.12},{"t":235,"h":10,"v":0.95},{"t":235,"h":11,"v":0.68},{"t":235,"h":12,"v":0.43},{"t":235,"h":13,"v":0.26},{"t":235,"h":14,"v":0.15},{"t":235,"h":15,"v":0.1},
{"t":245,"h":1,"v":1.5},{"t":245,"h":2,"v":1.7},{"t":245,"h":3,"v":1.92},{"t":245,"h":4,"v":1.86},{"t":245,"h":5,"v":1.75},{"t":245,"h":6,"v":1.6},{"t":245,"h":7,"v":1.4},{"t":245,"h":8,"v":1.22},{"t":245,"h":9,"v":1.12},{"t":245,"h":10,"v":0.95},{"t":245,"h":11,"v":0.68},{"t":245,"h":12,"v":0.43},{"t":245,"h":13,"v":0.26},{"t":245,"h":14,"v":0.15},{"t":245,"h":15,"v":0.1},
{"t":255,"h":1,"v":1.45},{"t":255,"h":2,"v":1.56},{"t":255,"h":3,"v":1.7},{"t":255,"h":4,"v":1.66},{"t":255,"h":5,"v":1.52},{"t":255,"h":6,"v":1.4},{"t":255,"h":7,"v":1.3},{"t":255,"h":8,"v":1.15},{"t":255,"h":9,"v":1.05},{"t":255,"h":10,"v":0.88},{"t":255,"h":11,"v":0.64},{"t":255,"h":12,"v":0.42},{"t":255,"h":13,"v":0.26},{"t":255,"h":14,"v":0.15},{"t":255,"h":15,"v":0.1},
{"t":265,"h":1,"v":1.4},{"t":265,"h":2,"v":1.48},{"t":265,"h":3,"v":1.55},{"t":265,"h":4,"v":1.55},{"t":265,"h":5,"v":1.45},{"t":265,"h":6,"v":1.35},{"t":265,"h":7,"v":1.25},{"t":265,"h":8,"v":1.05},{"t":265,"h":9,"v":0.88},{"t":265,"h":10,"v":0.78},{"t":265,"h":11,"v":0.6},{"t":265,"h":12,"v":0.4},{"t":265,"h":13,"v":0.25},{"t":265,"h":14,"v":0.15},{"t":265,"h":15,"v":0.1},
{"t":275,"h":1,"v":1.38},{"t":275,"h":2,"v":1.45},{"t":275,"h":3,"v":1.5},{"t":275,"h":4,"v":1.5},{"t":275,"h":5,"v":1.42},{"t":275,"h":6,"v":1.32},{"t":275,"h":7,"v":1.2},{"t":275,"h":8,"v":1.0},{"t":275,"h":9,"v":0.88},{"t":275,"h":10,"v":0.78},{"t":275,"h":11,"v":0.6},{"t":275,"h":12,"v":0.4},{"t":275,"h":13,"v":0.25},{"t":275,"h":14,"v":0.15},{"t":275,"h":15,"v":0.1},
{"t":285,"h":1,"v":1.36},{"t":285,"h":2,"v":1.42},{"t":285,"h":3,"v":1.46},{"t":285,"h":4,"v":1.46},{"t":285,"h":5,"v":1.38},{"t":285,"h":6,"v":1.3},{"t":285,"h":7,"v":1.18},{"t":285,"h":8,"v":0.98},{"t":285,"h":9,"v":0.88},{"t":285,"h":10,"v":0.78},{"t":285,"h":11,"v":0.6},{"t":285,"h":12,"v":0.4},{"t":285,"h":13,"v":0.25},{"t":285,"h":14,"v":0.15},{"t":285,"h":15,"v":0.1},
{"t":295,"h":1,"v":1.36},{"t":295,"h":2,"v":1.42},{"t":295,"h":3,"v":1.46},{"t":295,"h":4,"v":1.46},{"t":295,"h":5,"v":1.38},{"t":295,"h":6,"v":1.3},{"t":295,"h":7,"v":1.18},{"t":295,"h":8,"v":0.98},{"t":295,"h":9,"v":0.88},{"t":295,"h":10,"v":0.78},{"t":295,"h":11,"v":0.6},{"t":295,"h":12,"v":0.4},{"t":295,"h":13,"v":0.25},{"t":295,"h":14,"v":0.15},{"t":295,"h":15,"v":0.1},
{"t":305,"h":1,"v":1.35},{"t":305,"h":2,"v":1.42},{"t":305,"h":3,"v":1.45},{"t":305,"h":4,"v":1.45},{"t":305,"h":5,"v":1.38},{"t":305,"h":6,"v":1.3},{"t":305,"h":7,"v":1.17},{"t":305,"h":8,"v":0.97},{"t":305,"h":9,"v":0.88},{"t":305,"h":10,"v":0.78},{"t":305,"h":11,"v":0.6},{"t":305,"h":12,"v":0.4},{"t":305,"h":13,"v":0.25},{"t":305,"h":14,"v":0.15},{"t":305,"h":15,"v":0.1},
{"t":315,"h":1,"v":1.35},{"t":315,"h":2,"v":1.42},{"t":315,"h":3,"v":1.45},{"t":315,"h":4,"v":1.45},{"t":315,"h":5,"v":1.38},{"t":315,"h":6,"v":1.3},{"t":315,"h":7,"v":1.17},{"t":315,"h":8,"v":0.97},{"t":315,"h":9,"v":0.88},{"t":315,"h":10,"v":0.78},{"t":315,"h":11,"v":0.6},{"t":315,"h":12,"v":0.4},{"t":315,"h":13,"v":0.25},{"t":315,"h":14,"v":0.15},{"t":315,"h":15,"v":0.1},
{"t":325,"h":1,"v":1.33},{"t":325,"h":2,"v":1.4},{"t":325,"h":3,"v":1.42},{"t":325,"h":4,"v":1.42},{"t":325,"h":5,"v":1.36},{"t":325,"h":6,"v":1.28},{"t":325,"h":7,"v":1.15},{"t":325,"h":8,"v":0.96},{"t":325,"h":9,"v":0.88},{"t":325,"h":10,"v":0.78},{"t":325,"h":11,"v":0.6},{"t":325,"h":12,"v":0.4},{"t":325,"h":13,"v":0.25},{"t":325,"h":14,"v":0.15},{"t":325,"h":15,"v":0.1},
{"t":335,"h":1,"v":1.32},{"t":335,"h":2,"v":1.38},{"t":335,"h":3,"v":1.4},{"t":335,"h":4,"v":1.4},{"t":335,"h":5,"v":1.34},{"t":335,"h":6,"v":1.26},{"t":335,"h":7,"v":1.14},{"t":335,"h":8,"v":0.95},{"t":335,"h":9,"v":0.88},{"t":335,"h":10,"v":0.78},{"t":335,"h":11,"v":0.6},{"t":335,"h":12,"v":0.4},{"t":335,"h":13,"v":0.25},{"t":335,"h":14,"v":0.15},{"t":335,"h":15,"v":0.1},
{"t":345,"h":1,"v":1.3},{"t":345,"h":2,"v":1.36},{"t":345,"h":3,"v":1.38},{"t":345,"h":4,"v":1.38},{"t":345,"h":5,"v":1.32},{"t":345,"h":6,"v":1.24},{"t":345,"h":7,"v":1.12},{"t":345,"h":8,"v":0.95},{"t":345,"h":9,"v":0.88},{"t":345,"h":10,"v":0.78},{"t":345,"h":11,"v":0.6},{"t":345,"h":12,"v":0.4},{"t":345,"h":13,"v":0.25},{"t":345,"h":14,"v":0.15},{"t":345,"h":15,"v":0.1},
{"t":355,"h":1,"v":1.28},{"t":355,"h":2,"v":1.35},{"t":355,"h":3,"v":1.37},{"t":355,"h":4,"v":1.37},{"t":355,"h":5,"v":1.3},{"t":355,"h":6,"v":1.22},{"t":355,"h":7,"v":1.1},{"t":355,"h":8,"v":0.94},{"t":355,"h":9,"v":0.88},{"t":355,"h":10,"v":0.78},{"t":355,"h":11,"v":0.6},{"t":355,"h":12,"v":0.4},{"t":355,"h":13,"v":0.25},{"t":355,"h":14,"v":0.15},{"t":355,"h":15,"v":0.1}
]
},
"vconcat":[
{"width":779,"height":77,
 "resolve":{"axis":{"x":"independent","y":"independent"}},
 "layer":[
  {"data":{"name":"lwcbg"},"mark":{"type":"rect"},
   "encoding":{
    "x":{"field":"t0","type":"quantitative","scale":{"domain":[0,360],"nice":false,"zero":false},"axis":{"orient":"top","ticks":false,"labels":false,"title":null}},
    "x2":{"field":"t1"},
    "y":{"field":"h0","type":"quantitative","scale":{"domain":[1,16],"nice":false,"zero":false},"axis":{"orient":"right","ticks":false,"labels":false,"title":null}},
    "y2":{"field":"h1"},
    "color":{"field":"v","type":"quantitative","scale":{"type":"linear","domain":[0.018,0.015,0.0125,0.011,0.008,0.0065,0.005,0.0035,0.002,0],"range":["#ff1010","#ff9000","#f0f000","#40e000","#00e000","#10e0a0","#30d8f0","#3c9af2","#1e5cf0","#1430e6"],"interpolate":"rgb","clamp":true,"nice":false,"zero":false},
     "legend":{"type":"gradient","orient":"none","legendX":787,"legendY":-17,"direction":"vertical","title":"LWC(g m⁻³)","titleFontSize":10,"titleFontWeight":"bold","titleColor":"#000","titlePadding":6,"gradientLength":78,"gradientThickness":35,"gradientStrokeWidth":0,"values":[0,0.003,0.006,0.009,0.012,0.015,0.018],"labelExpr":"datum.value == 0 ? '0.0' : datum.value < 0.01 ? format(datum.value, '.4f') : format(datum.value, '.3f')","labelFontSize":12.5,"labelColor":"#111","labelOffset":4,"labelOverlap":false,"encode":{"labels":{"update":{"baseline":{"value":"middle"}}}}}}}},
  {"data":{"name":"lwc"},
   "transform":[{"bin":{"step":3,"extent":[0,360]},"field":"t","as":["t0","t1"]},{"bin":{"step":1,"extent":[1,16]},"field":"h","as":["h0","h1"]}],
   "mark":{"type":"rect"},
   "encoding":{
    "x":{"field":"t0","type":"quantitative","scale":{"domain":[0,360],"nice":false,"zero":false},"axis":{"orient":"bottom","values":[17.1,37.4,57.7,77.9,98.2,118.5,138.7,159,179.3,199.6,219.8,240.1,260.4,280.6,300.9,321.2,341.4],"labels":false,"title":null,"tickSize":{"condition":{"test":"indexof([37.4,77.9,118.5,159,199.6,240.1,280.6,321.2], datum.value) >= 0","value":9},"value":5}}},
    "x2":{"field":"t1"},
    "y":{"field":"h0","type":"quantitative","scale":{"domain":[1,16],"nice":false,"zero":false},"axis":{"orient":"left","values":[2,4,6,8,10,12,14,16],"title":"Altitude(km)","labelExpr":"datum.value == 16 ? '8.85' : datum.value == 12 ? '5.85' : datum.value == 8 ? '3.15' : datum.value == 4 ? '1.95' : ''","tickSize":4,"labelPadding":10}},
    "y2":{"field":"h1"},
    "color":{"field":"v","type":"quantitative","scale":{"type":"linear","domain":[0.018,0.015,0.0125,0.011,0.008,0.0065,0.005,0.0035,0.002,0],"range":["#ff1010","#ff9000","#f0f000","#40e000","#00e000","#10e0a0","#30d8f0","#3c9af2","#1e5cf0","#1430e6"],"interpolate":"rgb","clamp":true,"nice":false,"zero":false},"legend":null}}},
  {"data":{"values":[{"t0":96,"t1":123.8,"h0":6.3,"h1":8.1}]},"mark":{"type":"rect","filled":false,"stroke":"#ff2a40","strokeWidth":1.2,"strokeDash":[3,2]},
   "encoding":{"x":{"field":"t0","type":"quantitative","scale":{"domain":[0,360]},"axis":null},"x2":{"field":"t1"},"y":{"field":"h0","type":"quantitative","scale":{"domain":[1,16]},"axis":null},"y2":{"field":"h1"}}},
  {"data":{"values":[{"t0":97,"t1":123.8,"h0":6.5,"h1":7.5}]},"mark":{"type":"rect","filled":false,"stroke":"#111","strokeWidth":1,"strokeDash":[3,2]},
   "encoding":{"x":{"field":"t0","type":"quantitative","scale":{"domain":[0,360]},"axis":null},"x2":{"field":"t1"},"y":{"field":"h0","type":"quantitative","scale":{"domain":[1,16]},"axis":null},"y2":{"field":"h1"}}},
  {"data":{"name":"snow"},"mark":{"type":"rule","color":"#000","strokeWidth":1.2,"strokeDash":[3,2]},
   "encoding":{"x":{"field":"t","type":"quantitative","scale":{"domain":[0,360]},"axis":null},"y":{"datum":16,"type":"quantitative","scale":{"domain":[1,16]},"axis":null},"y2":{"datum":1}}},
  {"data":{"values":[{"t":0.6,"h":13.9,"label":"(a)"}]},"mark":{"type":"text","align":"left","baseline":"middle","font":"Liberation Mono","fontWeight":"bold","fontSize":13,"color":"#111"},
   "encoding":{"x":{"field":"t","type":"quantitative","scale":{"domain":[0,360]},"axis":null},"y":{"field":"h","type":"quantitative","scale":{"domain":[1,16]},"axis":null},"text":{"field":"label"}}},
  {"data":{"values":[{"t":178.4,"h":13.3,"label":"snowfall  time"}]},"mark":{"type":"text","align":"center","baseline":"middle","font":"DejaVu Sans Mono","fontSize":21,"color":"#0a0a0a"},
   "encoding":{"x":{"field":"t","type":"quantitative","scale":{"domain":[0,360]},"axis":null},"y":{"field":"h","type":"quantitative","scale":{"domain":[1,16]},"axis":null},"text":{"field":"label"}}},
  {"data":{"values":[{"t":126.6,"h":7.3,"label":"aircraft altitude"}]},"mark":{"type":"text","align":"left","baseline":"middle","font":"DejaVu Sans Mono","fontSize":10,"color":"#ff3355"},
   "encoding":{"x":{"field":"t","type":"quantitative","scale":{"domain":[0,360]},"axis":null},"y":{"field":"h","type":"quantitative","scale":{"domain":[1,16]},"axis":null},"text":{"field":"label"}}}
 ]},
{"width":779,"height":77,
 "resolve":{"axis":{"x":"independent","y":"independent"}},
 "layer":[
  {"data":{"name":"lq"},"mark":{"type":"line","color":"#000","strokeWidth":1.8},
   "encoding":{
    "x":{"field":"t","type":"quantitative","scale":{"domain":[0,360],"nice":false,"zero":false},"axis":{"orient":"bottom","values":[17.1,37.4,57.7,77.9,98.2,118.5,138.7,159,179.3,199.6,219.8,240.1,260.4,280.6,300.9,321.2,341.4],"labels":false,"title":null,"tickSize":{"condition":{"test":"indexof([37.4,77.9,118.5,159,199.6,240.1,280.6,321.2], datum.value) >= 0","value":9},"value":5}}},
    "y":{"field":"v","type":"quantitative","scale":{"domain":[0,0.06],"nice":false,"zero":false},"axis":{"orient":"left","values":[0,0.01,0.02,0.03,0.04,0.05,0.06],"title":"Lqint(mm)","labelExpr":"indexof([0,0.02,0.04,0.06], datum.value) >= 0 ? format(datum.value, '.2f') : ''","tickSize":{"condition":{"test":"indexof([0,0.02,0.04,0.06], datum.value) >= 0","value":8},"value":4},"labelPadding":6}}}},
  {"data":{"name":"lq"},"mark":{"type":"line","opacity":0},
   "encoding":{
    "x":{"field":"t","type":"quantitative","scale":{"domain":[0,360],"nice":false,"zero":false},"axis":{"orient":"top","values":[17.1,37.4,57.7,77.9,98.2,118.5,138.7,159,179.3,199.6,219.8,240.1,260.4,280.6,300.9,321.2,341.4],"labels":false,"title":null,"tickSize":{"condition":{"test":"indexof([37.4,77.9,118.5,159,199.6,240.1,280.6,321.2], datum.value) >= 0","value":-8},"value":-5}}},
    "y":{"field":"v","type":"quantitative","scale":{"domain":[0,0.06],"nice":false,"zero":false},"axis":{"orient":"right","values":[0,0.01,0.02,0.03,0.04,0.05,0.06],"labels":false,"title":null,"tickSize":{"condition":{"test":"indexof([0,0.02,0.04,0.06], datum.value) >= 0","value":-8},"value":-4}}}}},
  {"data":{"values":[{"t0":95.6,"t1":124.3}]},"mark":{"type":"rect","filled":false,"stroke":"#ee2222","strokeWidth":1.3,"strokeDash":[3,2]},
   "encoding":{"x":{"field":"t0","type":"quantitative","scale":{"domain":[0,360]},"axis":null},"x2":{"field":"t1"},"y":{"datum":0,"type":"quantitative","scale":{"domain":[0,0.06]},"axis":null},"y2":{"datum":0.06}}},
  {"data":{"name":"snow"},"mark":{"type":"rule","color":"#000","strokeWidth":1.2,"strokeDash":[3,2]},
   "encoding":{"x":{"field":"t","type":"quantitative","scale":{"domain":[0,360]},"axis":null},"y":{"datum":0.081,"type":"quantitative","scale":{"domain":[0,0.06]},"axis":null},"y2":{"datum":0}}},
  {"data":{"values":[{"t":0.6,"v":0.053,"label":"(b)"}]},"mark":{"type":"text","align":"left","baseline":"middle","font":"Liberation Mono","fontWeight":"bold","fontSize":13,"color":"#111"},
   "encoding":{"x":{"field":"t","type":"quantitative","scale":{"domain":[0,360]},"axis":null},"y":{"field":"v","type":"quantitative","scale":{"domain":[0,0.06]},"axis":null},"text":{"field":"label"}}},
  {"data":{"values":[{"t":110,"v":0.0514,"label":"aircraft"},{"t":110,"v":0.0397,"label":"time"}]},"mark":{"type":"text","align":"center","baseline":"middle","font":"DejaVu Sans Mono","fontSize":10,"color":"#ee2222"},
   "encoding":{"x":{"field":"t","type":"quantitative","scale":{"domain":[0,360]},"axis":null},"y":{"field":"v","type":"quantitative","scale":{"domain":[0,0.06]},"axis":null},"text":{"field":"label"}}}
 ]},
{"width":779,"height":77,
 "resolve":{"axis":{"x":"independent","y":"independent"}},
 "layer":[
  {"data":{"name":"vap"},
   "transform":[{"bin":{"step":10,"extent":[0,360]},"field":"t","as":["t0","t1"]},{"bin":{"step":1,"extent":[1,16]},"field":"h","as":["h0","h1"]}],
   "mark":{"type":"rect","filled":false,"strokeWidth":1.2},
   "encoding":{
    "x":{"field":"t0","type":"quantitative","scale":{"domain":[0,360],"nice":false,"zero":false},"axis":null},
    "x2":{"field":"t1"},
    "y":{"field":"h0","type":"quantitative","scale":{"domain":[1,16],"nice":false,"zero":false},"axis":null},
    "y2":{"field":"h1"},
    "stroke":{"field":"v","type":"quantitative","scale":{"type":"linear","domain":[2.4,2.2,2.0,1.85,1.6,1.2,1.0,0.8,0.4,0.2,0],"range":["#ff0000","#ff5a00","#ffb400","#f5f000","#50e600","#00e000","#00e6a0","#30d2f5","#1e6af0","#1444eb","#0a1ee6"],"interpolate":"rgb","clamp":true,"nice":false,"zero":false},"legend":null}}},
  {"data":{"name":"vap"},
   "transform":[{"bin":{"step":10,"extent":[0,360]},"field":"t","as":["t0","t1"]},{"bin":{"step":1,"extent":[1,16]},"field":"h","as":["h0","h1"]}],
   "mark":{"type":"rect"},
   "encoding":{
    "x":{"field":"t0","type":"quantitative","scale":{"domain":[0,360],"nice":false,"zero":false},"axis":{"orient":"bottom","values":[17.1,37.4,57.7,77.9,98.2,118.5,138.7,159,179.3,199.6,219.8,240.1,260.4,280.6,300.9,321.2,341.4],"labels":false,"title":null,"tickSize":{"condition":{"test":"indexof([37.4,77.9,118.5,159,199.6,240.1,280.6,321.2], datum.value) >= 0","value":9},"value":5}}},
    "x2":{"field":"t1"},
    "y":{"field":"h0","type":"quantitative","scale":{"domain":[1,16],"nice":false,"zero":false},"axis":{"orient":"left","values":[2,4,6,8,10,12,14,16],"title":"Altitude(km)","labelExpr":"datum.value == 16 ? '8.85' : datum.value == 12 ? '5.85' : datum.value == 8 ? '3.15' : datum.value == 4 ? '1.95' : ''","tickSize":4,"labelPadding":10}},
    "y2":{"field":"h1"},
    "color":{"field":"v","type":"quantitative","scale":{"type":"linear","domain":[2.4,2.2,2.0,1.85,1.6,1.2,1.0,0.8,0.4,0],"range":["#ff0000","#ff5a00","#ffb400","#f5f000","#50e600","#00e000","#00e6a0","#30d2f5","#1e6af0","#0a1ee6"],"interpolate":"rgb","clamp":true,"nice":false,"zero":false},
     "legend":{"type":"gradient","orient":"none","legendX":791,"legendY":-17,"direction":"vertical","title":"Vapor density(g m⁻³)","titleFontSize":10,"titleFontWeight":"bold","titleColor":"#000","titlePadding":6,"gradientLength":78,"gradientThickness":36,"gradientStrokeWidth":0,"values":[0,0.4,0.8,1.2,1.6,2.0,2.4],"labelExpr":"datum.value == 0 ? '0.0' : datum.value < 1 ? format(datum.value, '.2f') : format(datum.value, '.1f')","labelFontSize":12.5,"labelColor":"#111","labelOffset":4,"labelOverlap":false,"encode":{"labels":{"update":{"baseline":{"value":"middle"}}}}}}}},
  {"data":{"values":[{"t0":95.6,"t1":124.7,"h0":6.2,"h1":7.9}]},"mark":{"type":"rect","filled":false,"stroke":"#ee2222","strokeWidth":1.2,"strokeDash":[3,2]},
   "encoding":{"x":{"field":"t0","type":"quantitative","scale":{"domain":[0,360],"nice":false,"zero":false},"axis":{"orient":"top","ticks":false,"labels":false,"title":null}},"x2":{"field":"t1"},"y":{"field":"h0","type":"quantitative","scale":{"domain":[1,16],"nice":false,"zero":false},"axis":{"orient":"right","ticks":false,"labels":false,"title":null}},"y2":{"field":"h1"}}},
  {"data":{"values":[{"t0":96.2,"t1":124.2,"h0":6.35,"h1":7.75}]},"mark":{"type":"rect","filled":false,"stroke":"#222","strokeWidth":0.9,"strokeDash":[2,3]},
   "encoding":{"x":{"field":"t0","type":"quantitative","scale":{"domain":[0,360]},"axis":null},"x2":{"field":"t1"},"y":{"field":"h0","type":"quantitative","scale":{"domain":[1,16]},"axis":null},"y2":{"field":"h1"}}},
  {"data":{"name":"snow"},"mark":{"type":"rule","color":"#000","strokeWidth":1.2,"strokeDash":[3,2]},
   "encoding":{"x":{"field":"t","type":"quantitative","scale":{"domain":[0,360]},"axis":null},"y":{"datum":21.2,"type":"quantitative","scale":{"domain":[1,16]},"axis":null},"y2":{"datum":1}}},
  {"data":{"values":[{"t":0.6,"h":14.3,"label":"(c)"}]},"mark":{"type":"text","align":"left","baseline":"middle","font":"Liberation Mono","fontWeight":"bold","fontSize":13,"color":"#111"},
   "encoding":{"x":{"field":"t","type":"quantitative","scale":{"domain":[0,360]},"axis":null},"y":{"field":"h","type":"quantitative","scale":{"domain":[1,16]},"axis":null},"text":{"field":"label"}}},
  {"data":{"values":[{"t":126.2,"h":7.15,"label":"aircraft altitude"}]},"mark":{"type":"text","align":"left","baseline":"middle","font":"DejaVu Sans Mono","fontSize":10,"color":"#e0401a"},
   "encoding":{"x":{"field":"t","type":"quantitative","scale":{"domain":[0,360]},"axis":null},"y":{"field":"h","type":"quantitative","scale":{"domain":[1,16]},"axis":null},"text":{"field":"label"}}}
 ]},
{"width":779,"height":77,
 "resolve":{"axis":{"x":"independent","y":"independent"}},
 "layer":[
  {"data":{"name":"vi"},"mark":{"type":"line","color":"#000","strokeWidth":1.8},
   "encoding":{
    "x":{"field":"t","type":"quantitative","scale":{"domain":[0,360],"nice":false,"zero":false},"axis":{"orient":"bottom","values":[17.1,37.4,57.7,77.9,98.2,118.5,138.7,159,179.3,199.6,219.8,240.1,260.4,280.6,300.9,321.2,341.4],"title":null,"labelExpr":"indexof([37.4,77.9,118.5,159,199.6,240.1,280.6,321.2], datum.value) >= 0 ? ['15:38','16:18','16:58','17:38','18:20','19:00','19:40','20:20'][indexof([37.4,77.9,118.5,159,199.6,240.1,280.6,321.2], datum.value)] : ''","labelFontSize":14,"labelPadding":5,"labelOverlap":false,"tickSize":{"condition":{"test":"indexof([37.4,77.9,118.5,159,199.6,240.1,280.6,321.2], datum.value) >= 0","value":9},"value":5}}},
    "y":{"field":"v","type":"quantitative","scale":{"domain":[0.2,0.5],"nice":false,"zero":false},"axis":{"orient":"left","values":[0.2,0.25,0.3,0.35,0.4,0.45,0.5],"title":"Vint(cm)","labelExpr":"indexof([0.2,0.3,0.4,0.5], datum.value) >= 0 ? format(datum.value, '.1f') : ''","tickSize":{"condition":{"test":"indexof([0.2,0.3,0.4,0.5], datum.value) >= 0","value":8},"value":4},"labelPadding":6}}}},
  {"data":{"name":"vi"},"mark":{"type":"line","opacity":0},
   "encoding":{
    "x":{"field":"t","type":"quantitative","scale":{"domain":[0,360],"nice":false,"zero":false},"axis":{"orient":"top","values":[17.1,37.4,57.7,77.9,98.2,118.5,138.7,159,179.3,199.6,219.8,240.1,260.4,280.6,300.9,321.2,341.4],"labels":false,"title":null,"tickSize":{"condition":{"test":"indexof([37.4,77.9,118.5,159,199.6,240.1,280.6,321.2], datum.value) >= 0","value":-8},"value":-5}}},
    "y":{"field":"v","type":"quantitative","scale":{"domain":[0.2,0.5],"nice":false,"zero":false},"axis":{"orient":"right","values":[0.2,0.25,0.3,0.35,0.4,0.45,0.5],"labels":false,"title":null,"tickSize":{"condition":{"test":"indexof([0.2,0.3,0.4,0.5], datum.value) >= 0","value":-8},"value":-4}}}}},
  {"data":{"values":[{"t0":95.8,"t1":124.1}]},"mark":{"type":"rect","filled":false,"stroke":"#ee2222","strokeWidth":1.3,"strokeDash":[3,2]},
   "encoding":{"x":{"field":"t0","type":"quantitative","scale":{"domain":[0,360]},"axis":null},"x2":{"field":"t1"},"y":{"datum":0.2,"type":"quantitative","scale":{"domain":[0.2,0.5]},"axis":null},"y2":{"datum":0.497}}},
  {"data":{"name":"snow"},"mark":{"type":"rule","color":"#000","strokeWidth":1.2,"strokeDash":[3,2]},
   "encoding":{"x":{"field":"t","type":"quantitative","scale":{"domain":[0,360]},"axis":null},"y":{"datum":0.605,"type":"quantitative","scale":{"domain":[0.2,0.5]},"axis":null},"y2":{"datum":0.2}}},
  {"data":{"values":[{"t0":95.5,"t1":270.5}]},"mark":{"type":"rule","color":"#000","strokeWidth":1.2,"strokeDash":[3,2]},
   "encoding":{"x":{"field":"t0","type":"quantitative","scale":{"domain":[0,360]},"axis":null},"x2":{"field":"t1"},"y":{"datum":0.2,"type":"quantitative","scale":{"domain":[0.2,0.5]},"axis":null}}},
  {"data":{"values":[{"t":0.6,"v":0.465,"label":"(d)"}]},"mark":{"type":"text","align":"left","baseline":"middle","font":"Liberation Mono","fontWeight":"bold","fontSize":13,"color":"#111"},
   "encoding":{"x":{"field":"t","type":"quantitative","scale":{"domain":[0,360]},"axis":null},"y":{"field":"v","type":"quantitative","scale":{"domain":[0.2,0.5]},"axis":null},"text":{"field":"label"}}},
  {"data":{"values":[{"t":110,"v":0.465,"label":"aircraft"},{"t":110,"v":0.406,"label":"time"}]},"mark":{"type":"text","align":"center","baseline":"middle","font":"DejaVu Sans Mono","fontSize":10,"color":"#ee2222"},
   "encoding":{"x":{"field":"t","type":"quantitative","scale":{"domain":[0,360]},"axis":null},"y":{"field":"v","type":"quantitative","scale":{"domain":[0.2,0.5]},"axis":null},"text":{"field":"label"}}}
 ]}
],
"resolve":{"scale":{"color":"independent","stroke":"independent","x":"independent","y":"independent"}},
"config":{
 "font":"Liberation Sans",
 "view":{"stroke":"#000","strokeWidth":1.5},
 "axis":{"domainColor":"#000","domainWidth":1.5,"tickColor":"#000","tickWidth":1.2,"labelFont":"Liberation Sans","labelFontSize":15,"labelColor":"#222","titleFont":"Liberation Sans","titleFontSize":14,"titleFontWeight":"normal","titleColor":"#333","titlePadding":5,"grid":false,"zindex":1},
 "legend":{"padding":0,"titleFont":"Liberation Sans","labelFont":"Liberation Sans"}
}
}
